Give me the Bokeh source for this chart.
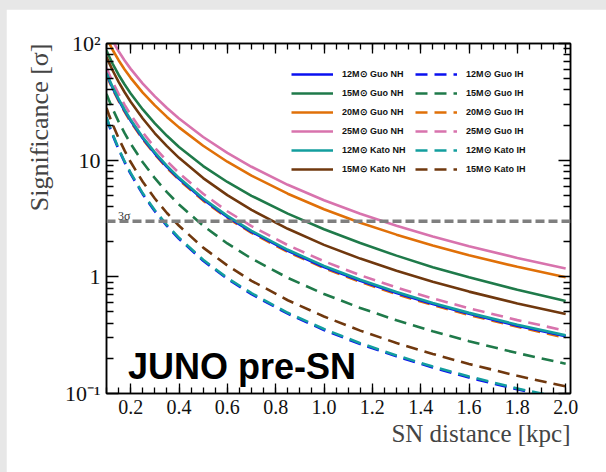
from bokeh.plotting import figure
from bokeh.layouts import column
from bokeh.models import (Range1d, LinearAxis, LogAxis, FixedTicker, Legend, LegendItem,
                          Title, Label, Span)
from bokeh.embed import file_html
from bokeh.resources import INLINE

# Distance grid [kpc]
distance = [0.1, 0.11, 0.125, 0.15, 0.175, 0.2, 0.25, 0.3, 0.35, 0.4, 0.5, 0.6, 0.7,
            0.85, 1.0, 1.15, 1.3, 1.45, 1.6, 1.8, 2.0]

# Pre-supernova detection significance [sigma], normal hierarchy
guo12_nh = [55.0, 48.9, 41.7, 32.8, 26.47, 21.8, 15.42, 11.4, 8.76, 6.92, 4.60, 3.26, 2.43,
            1.671, 1.215, 0.924, 0.725, 0.585, 0.482, 0.3805, 0.31]
guo15_nh = [87.0, 78.1, 67.3, 54.0, 44.48, 37.3, 27.2, 20.7, 16.18, 12.97, 8.9, 6.5, 4.95,
            3.48, 2.56, 1.95, 1.52, 1.21, 0.99, 0.775, 0.62]
guo20_nh = [113.0, 101.9, 88.4, 71.9, 59.86, 50.8, 37.98, 29.5, 23.48, 19.1, 13.3, 9.70, 7.37,
            5.16, 3.80, 2.91, 2.30, 1.859, 1.53, 1.218, 0.99]
guo25_nh = [135.0, 121.7, 105.7, 85.8, 71.5, 60.6, 45.35, 35.2, 28.0, 22.8, 15.8, 11.56, 8.78,
            6.15, 4.53, 3.47, 2.74, 2.215, 1.83, 1.451, 1.18]
kato12_nh = [56.0, 49.9, 42.5, 33.5, 27.01, 22.2, 15.73, 11.66, 8.94, 7.06, 4.69, 3.33, 2.48,
             1.705, 1.24, 0.943, 0.74, 0.5965, 0.491, 0.3883, 0.315]
kato15_nh = [77.0, 68.86, 59.0, 46.9, 38.19, 31.7, 22.75, 17.0, 13.18, 10.47, 7.02, 5.01, 3.75,
             2.58, 1.88, 1.433, 1.126, 0.908, 0.747, 0.592, 0.48]

# Inverted hierarchy
guo12_ih = [23.0, 20.03, 16.5, 12.39, 9.59, 7.62, 5.115, 3.65, 2.732, 2.12, 1.374, 0.9617, 0.71,
            0.4835, 0.350, 0.2653, 0.208, 0.1672, 0.137, 0.1086, 0.088]
guo15_ih = [37.0, 32.75, 27.6, 21.4, 17.03, 13.84, 9.60, 7.01, 5.32, 4.17, 2.74, 1.933, 1.434,
            0.981, 0.713, 0.5407, 0.424, 0.3415, 0.281, 0.222, 0.18]
guo20_ih = [54.0, 47.9, 40.8, 32.2, 25.93, 21.3, 15.1, 11.2, 8.58, 6.78, 4.50, 3.20, 2.38,
            1.637, 1.19, 0.905, 0.71, 0.573, 0.471, 0.3728, 0.30]
guo25_ih = [62.0, 55.2, 47.0, 37.0, 29.81, 24.5, 17.32, 12.8, 9.83, 7.75, 5.15, 3.65, 2.72,
            1.868, 1.36, 1.033, 0.81, 0.653, 0.538, 0.4255, 0.345]
kato12_ih = [23.4, 20.37, 16.8, 12.6, 9.75, 7.77, 5.2, 3.72, 2.78, 2.16, 1.40, 0.978, 0.724,
             0.492, 0.357, 0.27, 0.212, 0.170, 0.140, 0.1104, 0.090]
kato15_ih = [28.0, 24.51, 20.4, 15.44, 12.06, 9.64, 6.53, 4.69, 3.524, 2.74, 1.78, 1.251, 0.925,
             0.630, 0.457, 0.346, 0.271, 0.2184, 0.179, 0.1418, 0.115]

sigma_level = 3.0
x_ticks = [0.2, 0.4, 0.6, 0.8, 1.0, 1.2, 1.4, 1.6, 1.8, 2.0]
x_minor = [round(0.1 + 0.05 * i, 2) for i in range(39)]
y_ticks = [0.1, 1, 10, 100]
y_minor = [m * d for d in (0.1, 1, 10) for m in range(2, 10)]
y_labels = {0.1: "10\u207b\u00b9", 1: "1", 10: "10", 100: "10\u00b2"}

BLUE = "#0a10f0"
GREEN = "#1f7a4a"
ORANGE = "#e07008"
PINK = "#d873ad"
TEAL = "#139e9e"
BROWN = "#70380e"

SERIF = "Liberation Serif"
SANS = "Liberation Sans"

p = figure(width=600, height=463, x_range=Range1d(0.1, 2.02), y_range=Range1d(0.1, 100),
           y_axis_type="log", output_backend="svg", toolbar_location=None,
           min_border_left=100, min_border_right=36, min_border_top=34, min_border_bottom=79,
           background_fill_color="white", border_fill_color="white")
p.margin = (9, 0, 0, 6)
p.grid.visible = False
p.outline_line_color = "black"
p.outline_line_width = 1.5


def style_axis(ax, ticks, minor, major_len, minor_len, size="20px"):
    ax.ticker = FixedTicker(ticks=ticks, minor_ticks=minor)
    ax.major_tick_in = major_len
    ax.major_tick_out = 0
    ax.minor_tick_in = minor_len
    ax.minor_tick_out = 0
    ax.axis_line_color = "black"
    ax.axis_line_width = 1.5
    ax.major_tick_line_width = 1.3
    ax.minor_tick_line_width = 1.3
    ax.major_label_text_font = SERIF
    ax.major_label_text_font_size = size
    ax.major_label_text_color = "#111111"


xb = p.xaxis[0]
style_axis(xb, x_ticks, x_minor, 10, 6)
xb.major_label_overrides = {t: f"{t:.1f}" for t in x_ticks}
xb.major_label_standoff = 6

yl = p.yaxis[0]
style_axis(yl, y_ticks, y_minor, 12, 7, size="22px")
yl.major_label_overrides = y_labels
yl.major_label_standoff = 6

# mirrored tick marks on the top and right edges, without labels
xt = LinearAxis()
style_axis(xt, x_ticks, x_minor, 10, 6)
xt.major_label_overrides = {t: "" for t in x_ticks}
p.add_layout(xt, "above")
yr = LogAxis()
style_axis(yr, y_ticks, y_minor, 12, 7)
yr.major_label_overrides = {t: "" for t in y_ticks}
p.add_layout(yr, "right")

p.add_layout(Title(text="SN distance [kpc]", align="right", text_font=SERIF,
                   text_font_size="25px", text_font_style="normal", standoff=2), "below")
p.add_layout(Title(text="Significance [\u03c3]", align="right", text_font=SERIF,
                   text_font_size="26px", text_font_style="normal", standoff=16), "left")

# 3 sigma reference line across the frame
p.add_layout(Span(location=sigma_level, dimension="width", line_color="#7f7f7f",
                  line_width=3.5, line_dash="9 4"))
p.add_layout(Label(x=0.1475, y=3.3, text="3\u03c3", text_font=SERIF, text_font_size="12px",
                   text_color="#333333", text_baseline="alphabetic"))

series = [
    ("12M\u2299 Guo NH", guo12_nh, BLUE, "solid"),
    ("15M\u2299 Guo NH", guo15_nh, GREEN, "solid"),
    ("20M\u2299 Guo NH", guo20_nh, ORANGE, "solid"),
    ("25M\u2299 Guo NH", guo25_nh, PINK, "solid"),
    ("12M\u2299 Kato NH", kato12_nh, TEAL, "solid"),
    ("15M\u2299 Kato NH", kato15_nh, BROWN, "solid"),
    ("12M\u2299 Guo IH", guo12_ih, BLUE, "12 7"),
    ("15M\u2299 Guo IH", guo15_ih, GREEN, "12 7"),
    ("20M\u2299 Guo IH", guo20_ih, ORANGE, "12 7"),
    ("25M\u2299 Guo IH", guo25_ih, PINK, "12 7"),
    ("12M\u2299 Kato IH", kato12_ih, TEAL, "12 7"),
    ("15M\u2299 Kato IH", kato15_ih, BROWN, "12 7"),
]

renderers = {}
# dashed curves first, solid curves drawn over them
for name, vals, color, dash in series[6:] + series[:6]:
    renderers[name] = p.line(distance, vals, line_color=color, line_width=2.6, line_dash=dash)

for loc_x, group in [(185, series[:6]), (309, series[6:])]:
    leg = Legend(items=[LegendItem(label=n, renderers=[renderers[n]]) for n, *_ in group],
                 location=(loc_x, 218), orientation="vertical",
                 glyph_width=42, glyph_height=12, label_height=12, label_standoff=9,
                 spacing=7, padding=0, margin=0,
                 border_line_alpha=0, background_fill_alpha=0,
                 label_text_font=SANS, label_text_font_style="bold",
                 label_text_font_size="9px", label_text_color="#111111")
    p.add_layout(leg, "center")

p.add_layout(Label(x=0.189, y=0.113, text="JUNO pre-SN", text_font=SANS,
                   text_font_style="bold", text_font_size="36px", text_color="black",
                   text_baseline="bottom"))

page = column(p, width=606, height=472, styles={"background-color": "#e7e7e7"})

with open("out.html", "w") as f:
    f.write(file_html(page, INLINE))
